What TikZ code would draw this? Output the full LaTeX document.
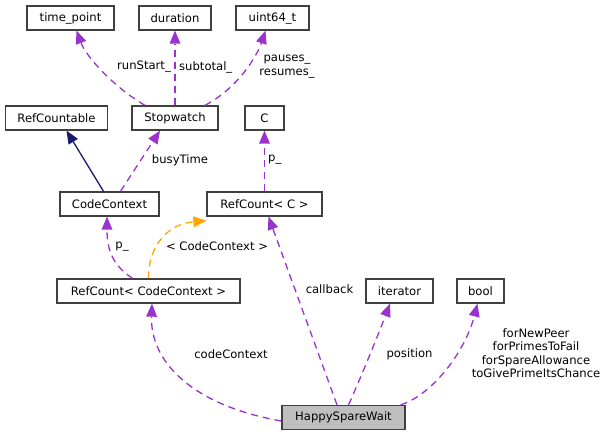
\documentclass[tikz,border=0pt]{standalone}
\usepackage{fontspec}
\setmainfont{DejaVu Sans}
\usetikzlibrary{arrows.meta}
\definecolor{dep}{HTML}{9A32CD}
\definecolor{tmpl}{HTML}{FFA500}
\definecolor{inh}{HTML}{191970}
\definecolor{boxline}{HTML}{404040}
\definecolor{hl}{HTML}{BFBFBF}
\begin{document}
\begin{tikzpicture}[x=1pt,y=-1pt,
  font=\fontsize{11.6}{13.4}\selectfont,
  box/.style={draw=boxline,line width=1.3pt,fill=white,minimum height=24pt,inner sep=0pt},
  tip/.style={-{Triangle[length=13pt,width=11pt,line width=0pt]}},
  depline/.style={draw=dep,line width=1.3pt,dash pattern=on 7pt off 5pt,tip},
  tmplline/.style={draw=tmpl,line width=1.3pt,dash pattern=on 7pt off 5pt,tip},
  inhline/.style={draw=inh,line width=1.3pt,tip},
  lbl/.style={inner sep=0pt,align=center}]
\useasboundingbox (0,0) rectangle (609,436);
% nodes
\node[box,minimum width=87pt] (tp) at (70.5,18) {time\_point};
\node[box,minimum width=72pt] (du) at (175,18) {duration};
\node[box,minimum width=73pt] (ui) at (272.5,18) {uint64\_t};
\node[box,minimum width=102pt] (rc) at (56.5,118) {RefCountable};
\node[box,minimum width=86pt] (sw) at (175,118) {Stopwatch};
\node[box,minimum width=39pt] (cc0) at (264.5,118) {C};
\node[box,minimum width=99pt] (cc) at (109.5,204) {CodeContext};
\node[box,minimum width=115pt] (rcc) at (264.5,204) {RefCount< C >};
\node[box,minimum width=183pt] (rccc) at (148.5,291) {RefCount< CodeContext >};
\node[box,minimum width=67pt] (it) at (399.5,291) {iterator};
\node[box,minimum width=47pt] (bo) at (480.5,291) {bool};
\node[box,minimum width=123pt,fill=hl] (hsw) at (343.5,417.5) {HappySpareWait};
% edges
\draw[depline] ([xshift=-30pt]sw.north) .. controls (112,86) and (86,56) .. ([xshift=6pt]tp.south);
\draw[depline] (sw.north) -- (du.south);
\draw[depline] ([xshift=30pt]sw.north) .. controls (238,88) and (257,56) .. ([xshift=-7pt]ui.south);
\draw[inhline] ([xshift=-6pt]cc.north) -- ([xshift=10pt]rc.south);
\draw[depline] ([xshift=11pt]cc.north) -- ([xshift=-15pt]sw.south);
\draw[depline] (rcc.north) -- (cc0.south);
\draw[depline] ([xshift=-16pt]rccc.north) .. controls (114,266) and (107,252) .. ([xshift=-2.5pt]cc.south);
\draw[tmplline] (rccc.north) .. controls (148,246) and (168,224) .. ([yshift=-4pt]rcc.south west);
\draw[depline] ([yshift=-3.5pt]hsw.west) .. controls (190,405) and (150,360) .. ([xshift=3.5pt]rccc.south);
\draw[depline] ([xshift=-6.5pt]hsw.north) -- ([xshift=4pt]rcc.south);
\draw[depline] ([xshift=5pt]hsw.north) .. controls (362,375) and (380,330) .. ([xshift=-9.5pt]it.south);
\draw[depline] ([xshift=-5pt]hsw.north east) .. controls (432,395) and (465,352) .. ([xshift=-3pt]bo.south);
% labels
\node[lbl,anchor=east] (l1) at (171,67) {runStart\_};
\node[lbl,anchor=west] (l2) at (179,67) {subtotal\_};
\node[lbl] (l3) at (287,66.5) {pauses\_\\resumes\_};
\node[lbl] (l4) at (180,160) {busyTime};
\node[lbl,anchor=west] (l5) at (268,160) {p\_};
\node[lbl] (l6) at (122,247) {p\_};
\node[lbl] (l7) at (217,246.5) {< CodeContext >};
\node[lbl] (l8) at (231,354) {codeContext};
\node[lbl] (l9) at (329.5,289) {callback};
\node[lbl] (l10) at (409.5,354) {position};
\node[lbl] (l11) at (536,353) {forNewPeer\\forPrimesToFail\\forSpareAllowance\\toGivePrimeItsChance};
\end{tikzpicture}
\end{document}
